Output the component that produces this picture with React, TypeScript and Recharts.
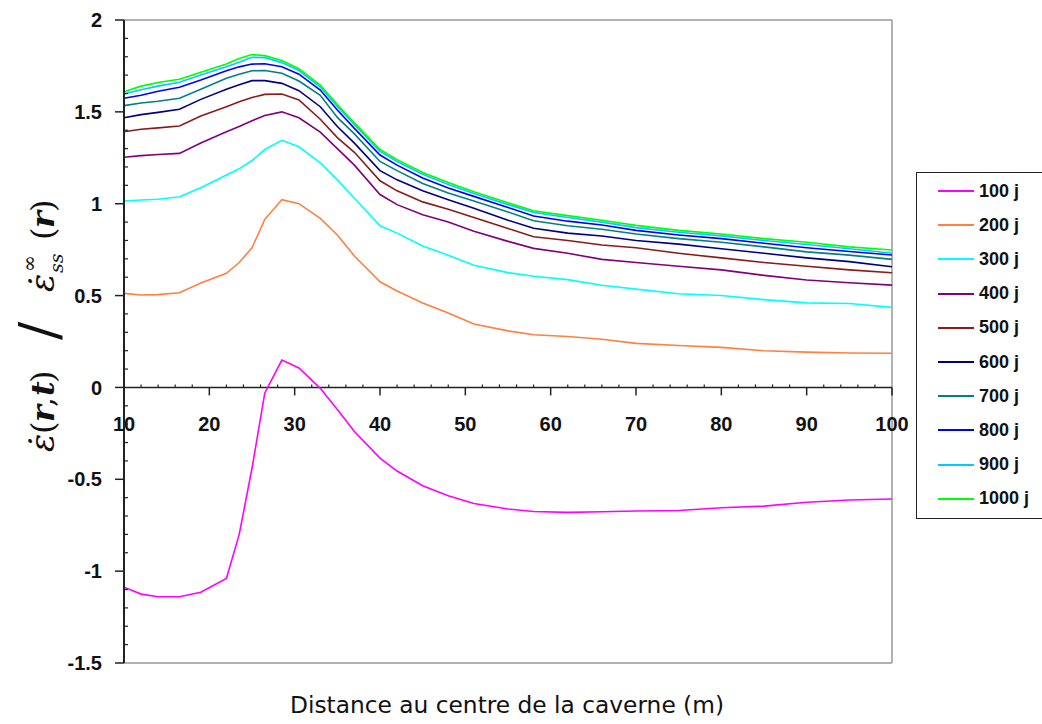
import { LineChart, Line, XAxis, YAxis, ReferenceLine } from 'recharts';

// distance au centre de la caverne (m)
const distance = [10, 12, 14, 16.5, 19, 22, 23.5, 25, 26.5, 28.5, 30.5, 33, 35, 37, 40, 42, 45, 48, 51, 55, 58, 62, 66, 70, 75, 80, 85, 90, 95, 100];

const j100 = [-1.087, -1.125, -1.139, -1.139, -1.115, -1.04, -0.8, -0.44, -0.03, 0.149, 0.106, -0.005, -0.12, -0.24, -0.385, -0.455, -0.535, -0.59, -0.632, -0.662, -0.675, -0.68, -0.677, -0.673, -0.67, -0.655, -0.646, -0.625, -0.613, -0.607];
const j200 = [0.512, 0.503, 0.505, 0.515, 0.568, 0.621, 0.68, 0.76, 0.915, 1.022, 1.0, 0.92, 0.83, 0.715, 0.575, 0.525, 0.46, 0.405, 0.345, 0.308, 0.287, 0.277, 0.262, 0.24, 0.228, 0.218, 0.2, 0.192, 0.187, 0.186];
const j300 = [1.015, 1.02, 1.024, 1.038, 1.087, 1.156, 1.19, 1.235, 1.295, 1.345, 1.31, 1.222, 1.13, 1.03, 0.88, 0.84, 0.77, 0.72, 0.665, 0.625, 0.605, 0.587, 0.556, 0.535, 0.51, 0.5, 0.478, 0.46, 0.457, 0.436];
const j400 = [1.253, 1.262, 1.268, 1.274, 1.33, 1.392, 1.42, 1.452, 1.48, 1.5, 1.468, 1.39, 1.3, 1.21, 1.05, 0.995, 0.94, 0.9, 0.85, 0.795, 0.757, 0.73, 0.697, 0.68, 0.66, 0.64, 0.61, 0.585, 0.57, 0.557];
const j500 = [1.392, 1.405, 1.413, 1.423, 1.477, 1.528, 1.555, 1.578, 1.595, 1.597, 1.565, 1.46, 1.36, 1.28, 1.125, 1.07, 1.01, 0.97, 0.925, 0.865, 0.82, 0.8, 0.775, 0.76, 0.73, 0.705, 0.68, 0.66, 0.64, 0.624];
const j600 = [1.468, 1.485, 1.497, 1.514, 1.568, 1.623, 1.648, 1.67, 1.67, 1.655, 1.615, 1.528, 1.42, 1.33, 1.18, 1.13, 1.07, 1.022, 0.975, 0.91, 0.866, 0.84, 0.824, 0.8, 0.78, 0.755, 0.73, 0.705, 0.685, 0.657];
const j700 = [1.534, 1.548, 1.558, 1.574, 1.623, 1.683, 1.705, 1.724, 1.725, 1.71, 1.668, 1.59, 1.47, 1.38, 1.23, 1.18, 1.11, 1.058, 1.015, 0.955, 0.907, 0.88, 0.861, 0.835, 0.81, 0.79, 0.765, 0.738, 0.72, 0.697];
const j800 = [1.574, 1.59, 1.612, 1.634, 1.673, 1.724, 1.745, 1.76, 1.762, 1.746, 1.705, 1.619, 1.51, 1.41, 1.265, 1.21, 1.14, 1.085, 1.04, 0.98, 0.933, 0.905, 0.884, 0.855, 0.83, 0.81, 0.785, 0.76, 0.74, 0.721];
const j900 = [1.597, 1.62, 1.64, 1.661, 1.7, 1.745, 1.77, 1.797, 1.795, 1.768, 1.725, 1.635, 1.53, 1.43, 1.285, 1.23, 1.16, 1.105, 1.055, 0.995, 0.953, 0.925, 0.9, 0.87, 0.845, 0.825, 0.8, 0.778, 0.755, 0.73];
const j1000 = [1.61, 1.64, 1.66, 1.677, 1.715, 1.76, 1.79, 1.812, 1.806, 1.78, 1.735, 1.646, 1.54, 1.44, 1.295, 1.24, 1.17, 1.115, 1.065, 1.005, 0.962, 0.935, 0.91, 0.882, 0.855, 0.835, 0.81, 0.79, 0.765, 0.748];

const seriesNames = ['100 j', '200 j', '300 j', '400 j', '500 j', '600 j', '700 j', '800 j', '900 j', '1000 j'];
const seriesValues = [j100, j200, j300, j400, j500, j600, j700, j800, j900, j1000];
const seriesColors = ['#FF00FF', '#FF8040', '#00FFFF', '#800080', '#8B1A1A', '#000080', '#008080', '#0000FF', '#00CCFF', '#00FF00'];

const xMajorTicks = [10, 20, 30, 40, 50, 60, 70, 80, 90, 100];
const xAllTicks = [10, 12, 14, 16, 18, 20, 22, 24, 26, 28, 30, 32, 34, 36, 38, 40, 42, 44, 46, 48, 50, 52, 54, 56, 58, 60, 62, 64, 66, 68, 70, 72, 74, 76, 78, 80, 82, 84, 86, 88, 90, 92, 94, 96, 98, 100];
const yMajorTicks = [-1.5, -1, -0.5, 0, 0.5, 1, 1.5, 2];
const yAllTicks = [-1.5, -1.4, -1.3, -1.2, -1.1, -1, -0.9, -0.8, -0.7, -0.6, -0.5, -0.4, -0.3, -0.2, -0.1, 0, 0.1, 0.2, 0.3, 0.4, 0.5, 0.6, 0.7, 0.8, 0.9, 1, 1.1, 1.2, 1.3, 1.4, 1.5, 1.6, 1.7, 1.8, 1.9, 2];

const data = distance.map((d, i) => {
  const row: Record<string, number> = { d };
  seriesNames.forEach((name, k) => {
    row[name] = seriesValues[k][i];
  });
  return row;
});

const W = 1042;
const H = 724;
const LEFT = 124;
const RIGHT = 892;
const TOP = 20;
const BOTTOM = 663;
const Y_MIN = -1.5;
const Y_MAX = 2;
const zeroY = TOP + ((Y_MAX - 0) / (Y_MAX - Y_MIN)) * (BOTTOM - TOP);
const tickFont = '"Liberation Sans", Arial, sans-serif';
const mathFont = '"DejaVu Serif", "Liberation Serif", serif';

function XTick({ x, payload }: any) {
  const v = payload.value;
  if (!xMajorTicks.includes(v)) {
    return <line x1={x} x2={x} y1={zeroY - 3} y2={zeroY} stroke="#222" strokeWidth={1.2} />;
  }
  return (
    <g>
      <line x1={x} x2={x} y1={zeroY} y2={zeroY + 8} stroke="#222" strokeWidth={1.5} />
      <text x={x} y={zeroY + 44} textAnchor="middle" fontFamily={tickFont} fontWeight="bold" fontSize={20} fill="#111">
        {v}
      </text>
    </g>
  );
}

function YTick({ y, payload }: any) {
  const v = payload.value;
  if (!yMajorTicks.includes(v)) {
    return <line x1={LEFT} x2={LEFT + 4} y1={y} y2={y} stroke="#222" strokeWidth={1.2} />;
  }
  return (
    <g>
      <line x1={LEFT - 9} x2={LEFT} y1={y} y2={y} stroke="#222" strokeWidth={1.5} />
      <text x={LEFT - 22} y={y} dy="0.36em" textAnchor="end" fontFamily={tickFont} fontWeight="bold" fontSize={20} fill="#111">
        {v}
      </text>
    </g>
  );
}

export default function App() {
  return (
    <div style={{ position: 'absolute', left: 0, top: 0, width: W, height: H, background: '#fff' }}>
      <LineChart width={W} height={H} data={data} margin={{ top: TOP, right: W - RIGHT, bottom: H - BOTTOM - 1, left: LEFT - 60 }}>
        <XAxis
          dataKey="d"
          type="number"
          domain={[10, 100]}
          ticks={xAllTicks}
          interval={0}
          height={1}
          axisLine={false}
          tickLine={false}
          tickSize={0}
          tick={<XTick />}
        />
        <YAxis
          type="number"
          domain={[Y_MIN, Y_MAX]}
          ticks={yAllTicks}
          interval={0}
          width={60}
          axisLine={{ stroke: '#222', strokeWidth: 2 }}
          tickLine={false}
          tickSize={0}
          tick={<YTick />}
        />
        <ReferenceLine y={Y_MAX} stroke="#999" strokeWidth={1.5} />
        <ReferenceLine y={Y_MIN} stroke="#999" strokeWidth={1.5} />
        <ReferenceLine x={100} stroke="#999" strokeWidth={1.5} />
        <ReferenceLine y={0} stroke="#222" strokeWidth={1.5} />
        {seriesNames.map((name, k) => (
          <Line
            key={name}
            type="linear"
            dataKey={name}
            stroke={seriesColors[k]}
            strokeWidth={1.6}
            dot={false}
            isAnimationActive={false}
          />
        ))}
      </LineChart>

      <svg width={W} height={H} style={{ position: 'absolute', left: 0, top: 0, pointerEvents: 'none' }}>
        <g transform="translate(54,452) rotate(-90)" fontFamily={mathFont} fill="#111">
          <text x={0} y={0} fontSize={34} fontStyle="italic">{'\u03B5\u0307'}</text>
          <text x={18} y={0} fontSize={32}>(</text>
          <text x={30} y={0} fontSize={32} fontStyle="italic" fontWeight="bold">r</text>
          <text x={45} y={0} fontSize={32}>,</text>
          <text x={56} y={0} fontSize={32} fontStyle="italic" fontWeight="bold">t</text>
          <text x={69} y={0} fontSize={32}>)</text>
          <text x={112} y={4} fontSize={54}>/</text>
          <text x={160} y={0} fontSize={34} fontStyle="italic">{'\u03B5\u0307'}</text>
          <text x={179} y={9} fontSize={19} fontStyle="italic">ss</text>
          <text x={180} y={-18} fontSize={20}>∞</text>
          <text x={212} y={0} fontSize={32}>(</text>
          <text x={224} y={0} fontSize={32} fontStyle="italic" fontWeight="bold">r</text>
          <text x={240} y={0} fontSize={32}>)</text>
        </g>
        <text x={507} y={713} textAnchor="middle" fontFamily='"DejaVu Sans", Verdana, sans-serif' fontSize={23.3} fill="#111">
          Distance au centre de la caverne (m)
        </text>
      </svg>

      <div
        style={{
          position: 'absolute',
          left: 916,
          top: 172,
          width: 140,
          height: 347,
          border: '1.5px solid #222',
          boxSizing: 'border-box',
          background: '#fff',
        }}
      >
        {seriesNames.map((name, k) => (
          <div
            key={name}
            style={{ position: 'absolute', left: 0, top: 4 + k * 34.2, height: 28, display: 'flex', alignItems: 'center' }}
          >
            <div style={{ marginLeft: 21, width: 36, height: 2, background: seriesColors[k] }} />
            <span style={{ marginLeft: 5, fontFamily: tickFont, fontWeight: 'bold', fontSize: 18, color: '#111' }}>{name}</span>
          </div>
        ))}
      </div>
    </div>
  );
}
